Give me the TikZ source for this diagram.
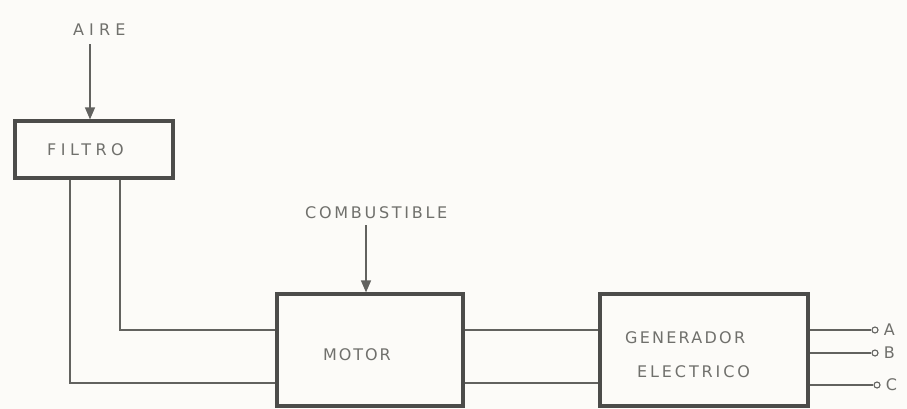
\documentclass[tikz,border=0pt]{standalone}
\usepackage{fontspec}
\setmainfont{DejaVu Sans}
\usetikzlibrary{arrows.meta}
\definecolor{ink}{HTML}{4C4C4A}
\definecolor{wirec}{HTML}{62625F}
\definecolor{txt}{HTML}{70706C}
\definecolor{paper}{HTML}{FCFBF8}
\tikzset{
  blk/.style={draw=ink, line width=3.2pt, minimum width=#1, inner sep=0pt},
  lbl/.style={text=txt, font=\fontsize{16}{18}\selectfont, inner sep=0pt, anchor=west},
  wire/.style={draw=wirec, line width=1.4pt},
  feed/.style={draw=wirec, line width=1.4pt, -{Triangle[width=10pt,length=12pt]}},
  term/.style={circle, draw=wirec, line width=1.1pt, fill=paper, minimum size=6pt, inner sep=0pt},
}
\newcommand{\spc}[2]{{\addfontfeature{LetterSpace=#1}#2}}
\begin{document}
\begin{tikzpicture}[x=1pt, y=-1pt]
\useasboundingbox (0,0) rectangle (907,409);
\fill[paper] (0,0) rectangle (907,409);
% nodes
\node[lbl] (aire) at (73,30) {\spc{32}{AIRE}};
\node[blk=158pt, minimum height=57pt] (filtro) at (94,149.5) {};
\node[lbl] at (47,150) {\spc{28}{FILTRO}};
\node[lbl] (comb) at (305,213) {\spc{17}{COMBUSTIBLE}};
\node[blk=186pt, minimum height=112pt] (motor) at (370,350) {};
\node[lbl] at (323,355) {\spc{12}{MOTOR}};
\node[blk=208pt, minimum height=112pt] (gen) at (704,350) {};
\node[lbl] at (625,338) {\spc{14}{GENERADOR}};
\node[lbl] at (637,372) {\spc{18}{ELECTRICO}};
\node[term] (ta) at (875,330) {};
\node[term] (tb) at (875,353) {};
\node[term] (tc) at (877,385) {};
\node[lbl] at ([xshift=5pt]ta.east) {A};
\node[lbl] at ([xshift=5pt]tb.east) {B};
\node[lbl] at ([xshift=5pt]tc.east) {C};
% connectors
\draw[feed] ([xshift=-4pt, yshift=-8pt]filtro.north |- aire.south) -- ([xshift=-4pt]filtro.north);
\draw[feed] ([xshift=-4pt, yshift=-6pt]motor.north |- comb.south) -- ([xshift=-4pt]motor.north);
\draw[wire] ([xshift=26pt]filtro.south) |- ([yshift=20pt]motor.west);
\draw[wire] ([xshift=-24pt]filtro.south) |- ([yshift=-33pt]motor.west);
\draw[wire] ([yshift=20pt]motor.east) -- ([yshift=20pt]gen.west);
\draw[wire] ([yshift=-33pt]motor.east) -- ([yshift=-33pt]gen.west);
\draw[wire] (gen.east |- ta) -- (ta);
\draw[wire] (gen.east |- tb) -- (tb);
\draw[wire] (gen.east |- tc) -- (tc);
\end{tikzpicture}
\end{document}
